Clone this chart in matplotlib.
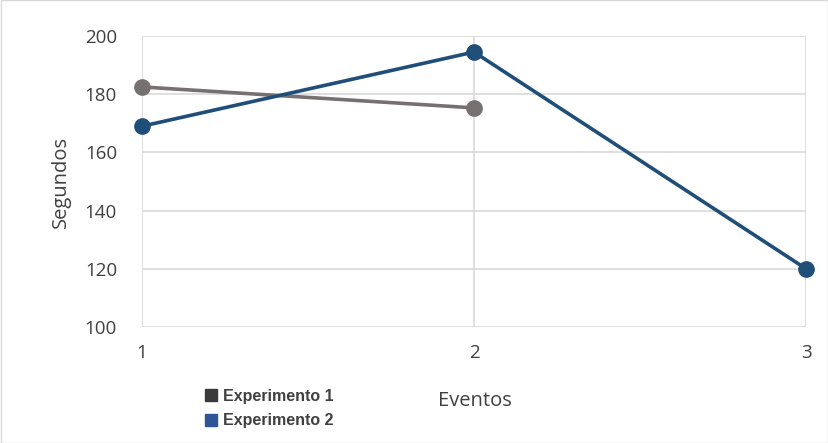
import matplotlib
matplotlib.use("Agg")
import matplotlib.pyplot as plt
from matplotlib.lines import Line2D
from matplotlib.patches import Rectangle

events = [1, 2, 3]
exp1_x = [1, 2]
exp1 = [182.5, 175.3]
exp2_x = [1, 2, 3]
exp2 = [169, 194.5, 120]
yticks = [100, 120, 140, 160, 180, 200]
series_names = ["Experimento 1", "Experimento 2"]

plt.rcParams['font.family'] = ['Open Sans', 'DejaVu Sans']

fig = plt.figure(figsize=(8.29, 4.43), dpi=100)
ax = fig.add_axes([0.1713, 0.2619, 0.801, 0.6568])

c1 = "#767171"
c2 = "#1F4E79"
ax.plot(exp1_x, exp1, color=c1, lw=2.6, marker='o', ms=11, zorder=3, clip_on=False)
ax.plot(exp2_x, exp2, color=c2, lw=2.6, marker='o', ms=11, zorder=4, clip_on=False)

ax.set_xlim(1, 3)
ax.set_ylim(100, 200)
ax.set_xticks(events)
ax.set_yticks(yticks)
ax.grid(True, color="#d9d9d9", lw=1.2)
ax.set_axisbelow(True)
for s in ax.spines.values():
    s.set_visible(False)
ax.tick_params(length=0, labelsize=13.5, colors="#404040")
ax.tick_params(axis='y', pad=18)
ax.tick_params(axis='x', pad=12)
ax.set_ylabel("Segundos", fontsize=14.5, color="#404040", labelpad=10)
fig.text(0.573, 0.083, "Eventos", fontsize=14.5, color="#404040", ha='center')

handles = [Line2D([], [], ls='', marker='s', ms=8, color="#3a3a3a"),
           Line2D([], [], ls='', marker='s', ms=8, color="#2F5597")]
leg = fig.legend(handles, series_names, loc='upper left', bbox_to_anchor=(0.232, 0.155),
                 frameon=False, handlelength=0.6, handletextpad=0.45, labelspacing=0.6,
                 prop={'weight': 'bold', 'size': 11.5, 'family': ['Liberation Sans']})
for t in leg.get_texts():
    t.set_color("#404040")

fig.patches.append(Rectangle((0.001, 0.001), 0.998, 0.998, transform=fig.transFigure,
                             fill=False, edgecolor="#d9d9d9", lw=1))

fig.savefig("out.png", dpi=100)
